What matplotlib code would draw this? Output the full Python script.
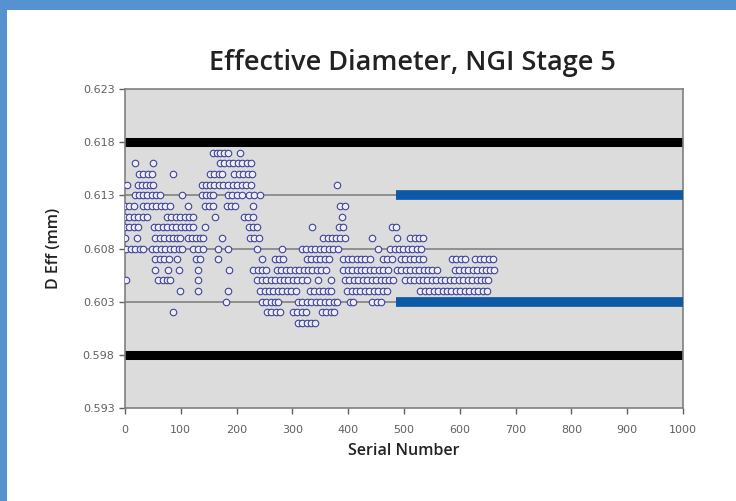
import matplotlib
matplotlib.use("Agg")
import matplotlib.pyplot as plt
from matplotlib.patches import Rectangle

s_0617 = [157, 164, 171, 178, 185, 206]
s_0616 = [18, 50, 170, 178, 186, 194, 202, 210, 218, 226]
s_0615 = [25, 33, 41, 48, 86, 152, 160, 168, 174, 196, 204, 212, 220, 228]
s_0614 = [3, 23, 30, 37, 44, 50, 138, 145, 152, 160, 168, 176, 185, 193,
          201, 209, 217, 225, 380]
s_0613 = [18, 25, 32, 40, 48, 56, 63, 102, 138, 145, 152, 158, 185, 192,
          200, 210, 222, 232, 242]
s_0612 = [0, 8, 16, 32, 40, 48, 56, 64, 72, 80, 113, 143, 150, 157, 183,
          190, 197, 230, 386, 394]
s_0611 = [0, 8, 16, 24, 32, 39, 75, 83, 91, 99, 107, 115, 122, 161, 213,
          221, 229, 389]
s_0610 = [0, 8, 16, 24, 52, 60, 68, 76, 84, 92, 100, 108, 115, 122, 143,
          222, 230, 237, 335, 383, 390, 478, 486]
s_0609 = [0, 21, 54, 62, 70, 78, 86, 94, 99, 113, 120, 127, 134, 140, 174,
          224, 232, 240, 355, 363, 371, 378, 386, 394, 443, 487, 511, 519,
          527, 534]
s_0608 = [2, 10, 18, 26, 32, 48, 56, 64, 72, 80, 88, 96, 102, 122, 130,
          140, 167, 185, 237, 281, 317, 325, 333, 341, 349, 357, 365, 373,
          381, 454, 475, 483, 491, 499, 507, 515, 523, 531]
s_0607 = [54, 62, 70, 78, 93, 128, 135, 167, 245, 268, 276, 284, 326, 334,
          342, 350, 358, 366, 391, 399, 407, 415, 423, 431, 439, 462, 470,
          478, 494, 502, 510, 518, 526, 534, 586, 594, 602, 609, 628, 636,
          644, 652, 659]
s_0606 = [54, 77, 97, 131, 186, 230, 238, 246, 252, 272, 280, 288, 296, 304,
          312, 320, 328, 336, 344, 352, 360, 391, 399, 407, 415, 423, 431,
          439, 447, 455, 463, 471, 487, 495, 503, 511, 519, 527, 535, 543,
          551, 559, 591, 599, 607, 615, 623, 631, 639, 647, 655, 662]
s_0605 = [2, 60, 68, 76, 81, 131, 237, 245, 253, 261, 269, 277, 285, 293,
          301, 309, 317, 326, 346, 370, 394, 402, 410, 418, 426, 434, 442,
          450, 458, 466, 474, 480, 502, 510, 518, 526, 534, 542, 550, 558,
          566, 574, 582, 590, 598, 606, 614, 622, 630, 638, 646, 651]
s_0604 = [99, 131, 185, 242, 250, 258, 266, 274, 282, 290, 298, 306, 331,
          339, 347, 355, 363, 370, 398, 406, 414, 422, 430, 438, 446, 454,
          462, 470, 529, 537, 545, 553, 561, 569, 577, 585, 593, 601, 609,
          617, 625, 633, 641, 649]
s_0603 = [181, 245, 253, 261, 269, 274, 310, 318, 326, 334, 342, 350, 358,
          366, 374, 380, 403, 409, 443, 451, 459]
s_0602 = [86, 254, 262, 270, 278, 301, 309, 317, 325, 353, 361, 369, 375]
s_0601 = [310, 318, 326, 334, 340]

levels = [0.617, 0.616, 0.615, 0.614, 0.613, 0.612, 0.611, 0.610, 0.609,
          0.608, 0.607, 0.606, 0.605, 0.604, 0.603, 0.602, 0.601]
groups = [s_0617, s_0616, s_0615, s_0614, s_0613, s_0612, s_0611, s_0610,
          s_0609, s_0608, s_0607, s_0606, s_0605, s_0604, s_0603, s_0602,
          s_0601]

spec_limits = [0.618, 0.598]
ctrl_limits = [0.613, 0.603]
ctrl_start = 485
grid_vals = [0.613, 0.608, 0.603]
yticks = [0.593, 0.598, 0.603, 0.608, 0.613, 0.618, 0.623]
xticks = list(range(0, 1001, 100))

xs, ys = [], []
for lev, grp in zip(levels, groups):
    for s in grp:
        xs.append(s)
        ys.append(lev)

fig = plt.figure(figsize=(7.36, 5.01), dpi=100)
fig.patch.set_facecolor("white")
# blue frame around the picture
fig.patches.append(Rectangle((0, 1 - 10 / 501), 1, 10 / 501, transform=fig.transFigure,
                             facecolor="#5592cf", edgecolor="none", zorder=-1))
fig.patches.append(Rectangle((0, 0), 7 / 736, 1, transform=fig.transFigure,
                             facecolor="#5592cf", edgecolor="none", zorder=-1))

ax = fig.add_axes([125 / 736, 93 / 501, 558 / 736, 319 / 501])
ax.set_facecolor("#dcdcdc")

for g in grid_vals:
    ax.axhline(g, color="#8a8a8a", linewidth=1.3, zorder=1)
for v in spec_limits:
    ax.axhline(v, color="black", linewidth=6.5, zorder=2)

ax.scatter(xs, ys, s=22, facecolors="#eeeef4", edgecolors="#40449c",
           linewidths=0.8, zorder=3)

for v in ctrl_limits:
    ax.plot([ctrl_start, 1000], [v, v], color="#0c5aa6", linewidth=7,
            solid_capstyle="butt", zorder=4)

ax.set_xlim(0, 1000)
ax.set_ylim(0.593, 0.623)
ax.set_xticks(xticks)
ax.set_yticks(yticks)
ax.set_yticklabels(["%.3f" % t for t in yticks])
ax.tick_params(axis="both", labelsize=8, colors="#606060", length=4,
               width=1, direction="out")
ax.tick_params(axis="x", pad=8)
for side in ["left", "bottom", "top", "right"]:
    ax.spines[side].set_color("#808080")
    ax.spines[side].set_linewidth(1.2)

ax.set_title("Effective Diameter, NGI Stage 5", fontsize=19.5, fontweight=600,
             family=["Open Sans", "DejaVu Sans"], color="#222222", pad=14,
             x=0.516)
ax.set_xlabel("Serial Number", fontsize=11.5, fontweight=600,
              family=["Open Sans", "DejaVu Sans"], color="#222222", labelpad=6)
ax.set_ylabel("D Eff (mm)", fontsize=11.5, fontweight=600,
              family=["Open Sans", "DejaVu Sans"], color="#222222", labelpad=15)

fig.savefig("out.png", dpi=100)
